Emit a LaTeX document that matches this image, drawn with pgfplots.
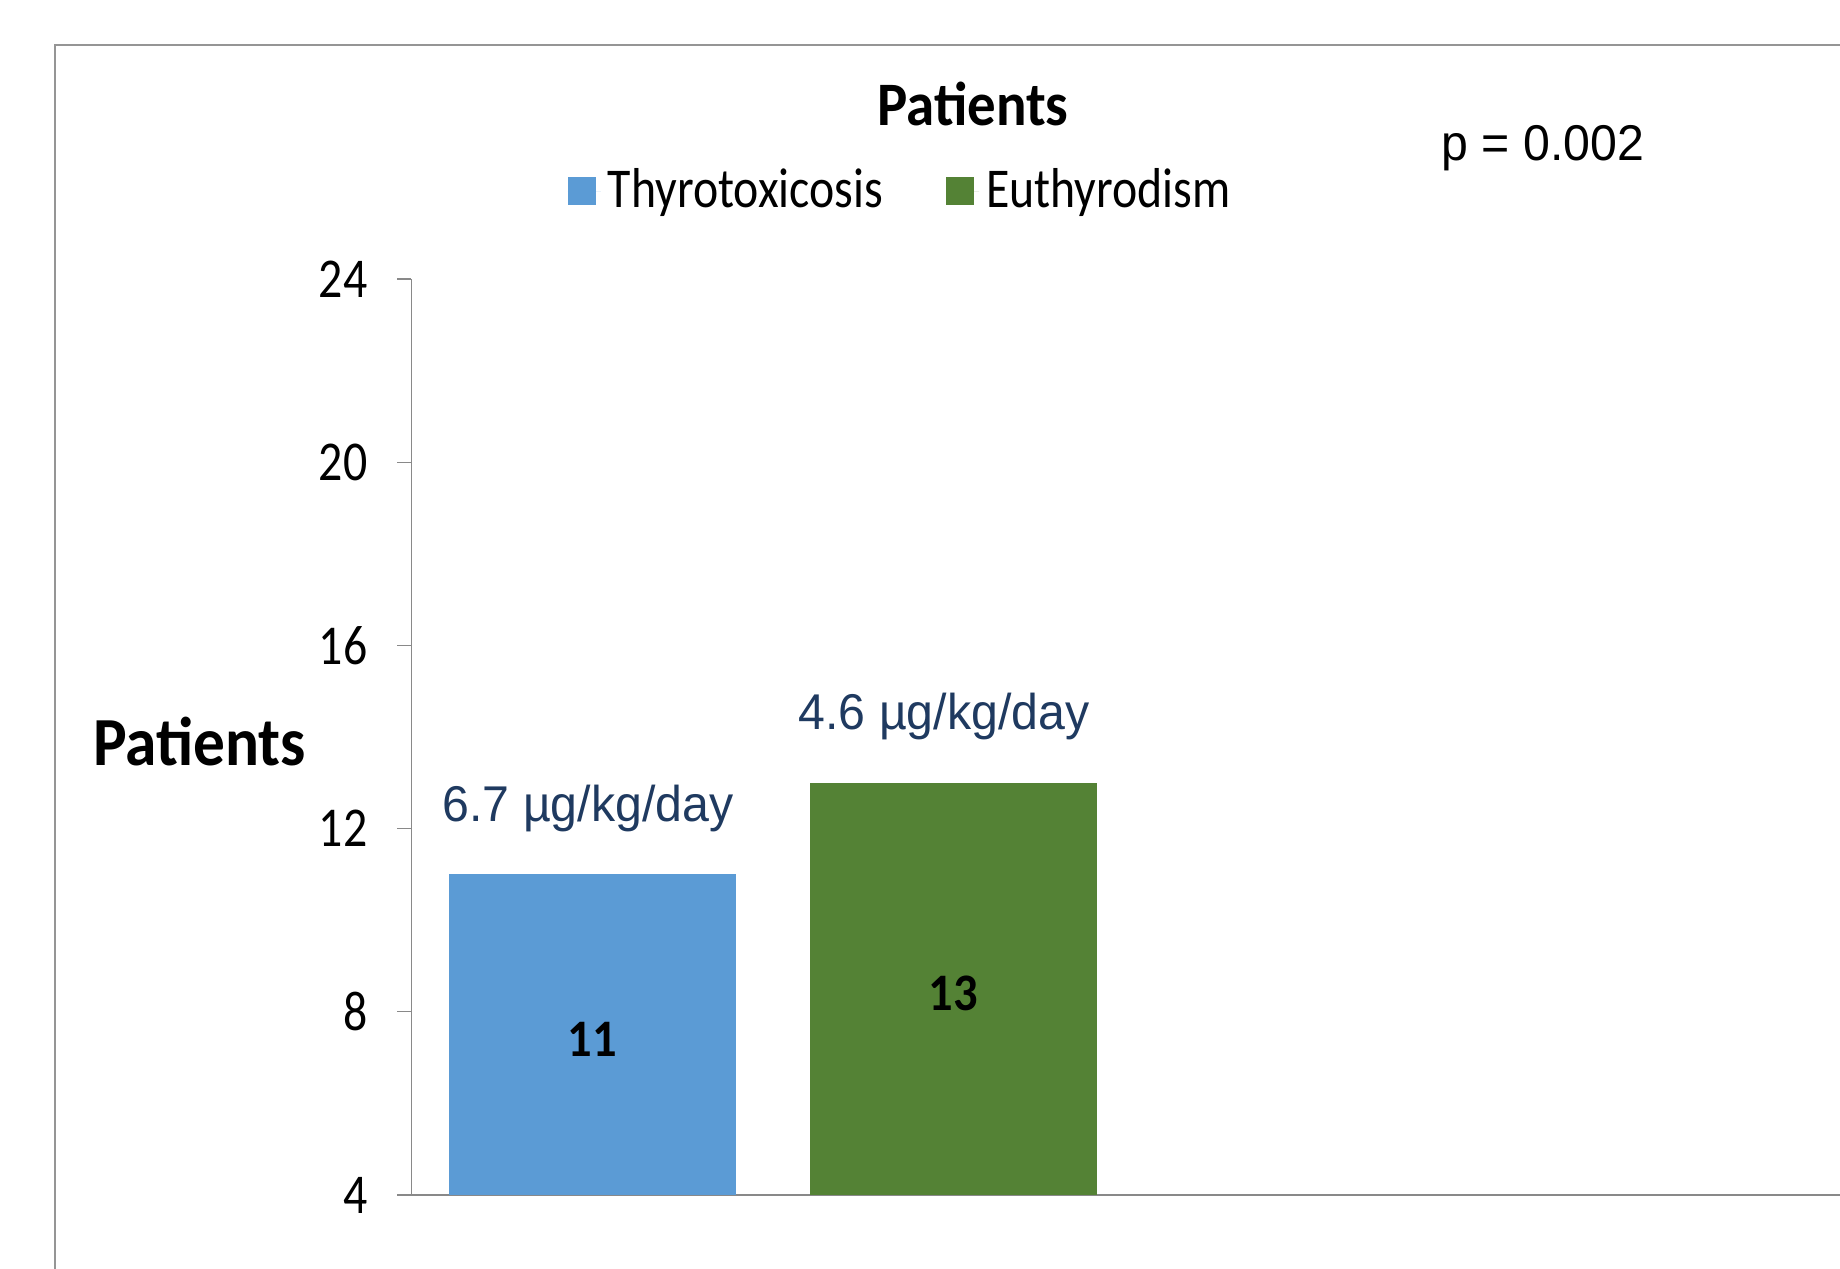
\documentclass[border=0pt]{standalone}
\usepackage{pgfplots}
\pgfplotsset{compat=1.18}
\usepackage{fontspec}
\setmainfont{Carlito}
\newfontfamily\calN{Carlito}[FakeStretch=0.85]
\newfontfamily\calB{Carlito}[FakeStretch=0.92]
\newfontfamily\arialfont{Liberation Sans}[FakeStretch=0.96]
\definecolor{tblue}{HTML}{5B9BD5}
\definecolor{egreen}{HTML}{548235}
\definecolor{lblue}{HTML}{1F3A60}
\definecolor{axgray}{HTML}{898989}
\begin{document}
\begin{tikzpicture}
\useasboundingbox (0mm,0mm) rectangle (184mm,126.8mm);
\begin{scope}
\clip (0mm,0mm) rectangle (184mm,126.8mm);
\draw[color=axgray!90, line width=0.23mm] (5.5mm,-2mm) rectangle (195mm,122.3mm);
\begin{axis}[
  at={(41.1mm,7.3mm)}, anchor=south west,
  scale only axis,
  width=153.9mm, height=91.6mm,
  xmin=0, xmax=15.39,
  ymin=4, ymax=24,
  ytick={4,8,12,16,20,24},
  xtick=\empty,
  axis x line=bottom, axis y line=left,
  axis line style={-},
  x axis line style={color=axgray, line width=0.2mm},
  y axis line style={color=axgray, line width=0.1mm},
  y tick style={color=axgray, line width=0.12mm},
  tick align=outside,
  major tick length=1.4mm,
  /pgf/number format/assume math mode=true,
  yticklabel style={font=\calN\fontsize{16}{16}\selectfont, anchor=east, inner sep=0pt, xshift=-2.9mm},
  ybar, bar width=28.7mm,
  clip mode=individual,
  legend columns=2,
  legend style={draw=none, fill=none, at={(axis description cs:0.3195,1.096)}, anchor=center,
    font=\calN\fontsize{16}{16}\selectfont, column sep=0pt, inner sep=0pt,
    /tikz/every even column/.append style={column sep=5.6mm}},
  legend image code/.code={\path (0mm,0mm) -- (3.3mm,0mm); \fill[#1] (0mm,-1.4mm) rectangle (2.8mm,1.4mm);},
]
\addplot[fill=tblue, draw=none, bar shift=0pt] coordinates {(1.815,11)};
\addlegendentry{Thyrotoxicosis}
\addplot[fill=egreen, draw=none, bar shift=0pt] coordinates {(5.425,13)};
\addlegendentry{Euthyrodism}
\node[font=\calB\fontsize{15}{15}\selectfont\bfseries] at (axis cs:1.815,7.4) {11};
\node[font=\calB\fontsize{15}{15}\selectfont\bfseries] at (axis cs:5.425,8.4) {13};
\node[font=\arialfont\fontsize{14.3}{14.3}\selectfont, text=lblue] at (axis cs:1.77,12.43) {6.7 µg/kg/day};
\node[font=\arialfont\fontsize{14.3}{14.3}\selectfont, text=lblue] at (axis cs:5.33,14.45) {4.6 µg/kg/day};
\end{axis}
\node[font=\calB\fontsize{17.6}{17.6}\selectfont\bfseries] at (97.3mm,116.4mm) {Patients};
\node[font=\calB\fontsize{19.6}{19.6}\selectfont\bfseries] at (19.95mm,52.6mm) {Patients};
\node[font=\arialfont\fontsize{14.3}{14.3}\selectfont] at (154.3mm,112.0mm) {p = 0.002};
\end{scope}
\end{tikzpicture}
\end{document}
